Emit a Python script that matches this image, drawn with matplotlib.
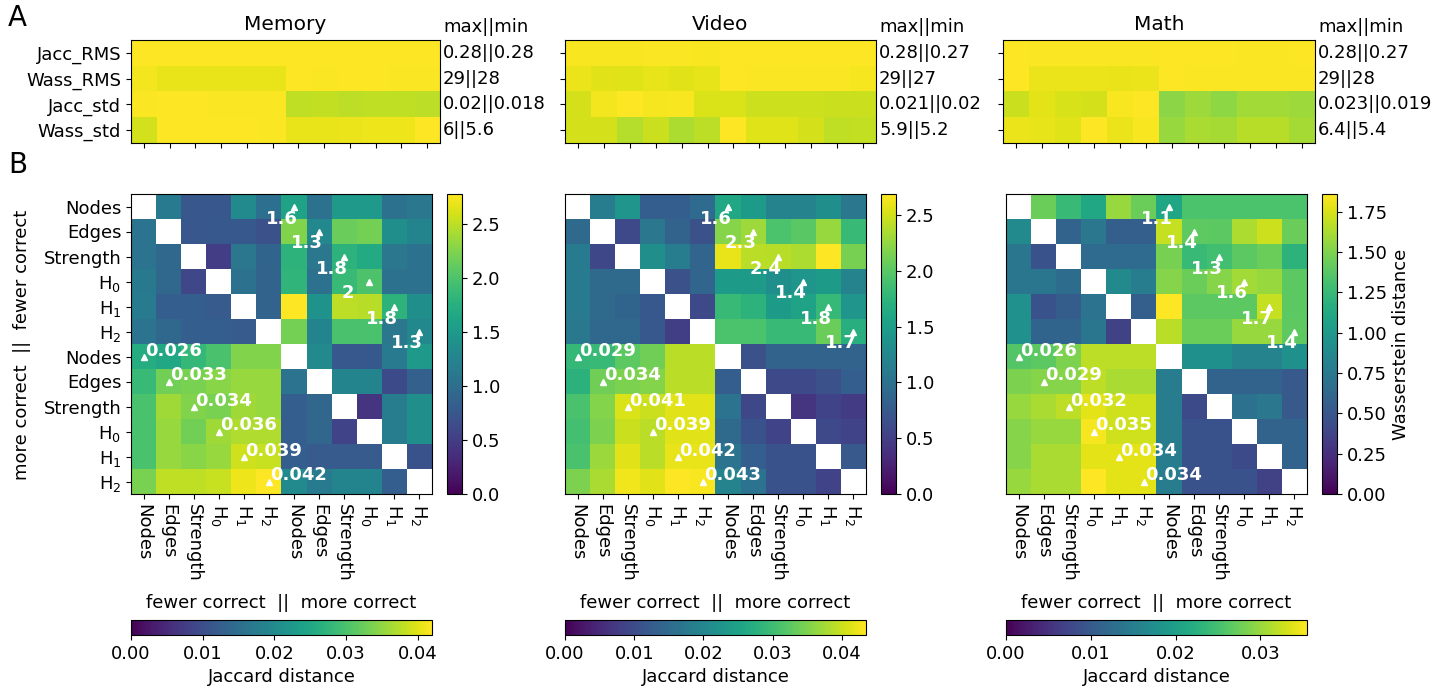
import numpy as np
import matplotlib
matplotlib.use("Agg")
import matplotlib.pyplot as plt

nan = np.nan

tasks = ["Memory", "Video", "Math"]
summary_rows = ["Jacc_RMS", "Wass_RMS", "Jacc_std", "Wass_std"]
features = ["Nodes", "Edges", "Strength", "H$_0$", "H$_1$", "H$_2$"]

# panel A: per-row summaries (12 columns each)
memory_summary = [
    [0.280, 0.279, 0.279, 0.279, 0.279, 0.279, 0.280, 0.280, 0.280, 0.280, 0.280, 0.280],
    [28.5, 28.0, 28.0, 28.0, 28.0, 28.0, 29.0, 28.8, 28.9, 28.9, 28.8, 28.8],
    [0.0199, 0.0200, 0.0200, 0.0199, 0.0199, 0.0199, 0.0181, 0.0182, 0.0180, 0.0181, 0.0181, 0.0180],
    [5.56, 5.95, 5.95, 5.95, 5.97, 5.93, 5.78, 5.78, 5.8, 5.82, 5.82, 5.95],
]
video_summary = [
    [0.273, 0.273, 0.273, 0.274, 0.274, 0.273, 0.276, 0.276, 0.276, 0.276, 0.276, 0.276],
    [27.8, 27.3, 27.2, 27.5, 27.3, 27.5, 28.6, 28.4, 28.4, 28.4, 28.4, 28.2],
    [0.0200, 0.0210, 0.0214, 0.0211, 0.0212, 0.0202, 0.0202, 0.0198, 0.0198, 0.0198, 0.0197, 0.0197],
    [5.55, 5.55, 5.28, 5.46, 5.2, 5.35, 5.94, 5.64, 5.65, 5.55, 5.38, 5.4],
]
math_summary = [
    [0.276, 0.274, 0.274, 0.274, 0.274, 0.274, 0.275, 0.275, 0.275, 0.274, 0.274, 0.275],
    [28.6, 27.8, 27.8, 27.8, 27.7, 27.8, 28.6, 28.4, 28.4, 28.4, 28.4, 28.4],
    [0.0212, 0.0221, 0.0216, 0.0215, 0.0228, 0.0230, 0.0190, 0.0196, 0.0191, 0.0198, 0.0198, 0.0196],
    [6.2, 6.15, 6.1, 6.4, 6.2, 6.35, 5.4, 5.6, 5.55, 5.7, 5.7, 5.55],
]

# panel B: upper triangle = Wasserstein, lower triangle = Jaccard
memory_dist = [
    [nan, 1.15, 0.75, 0.75, 1.32, 1.02, 1.6, 1.05, 1.5, 1.5, 1.05, 1.1],
    [0.016, nan, 0.75, 0.77, 0.77, 0.69, 2.25, 1.3, 2.15, 2.2, 1.38, 1.25],
    [0.016, 0.014, nan, 0.5, 1.1, 0.9, 1.8, 1.1, 1.8, 1.7, 1.1, 1.05],
    [0.017, 0.014, 0.009, nan, 1.05, 0.88, 1.82, 1.05, 1.87, 2.0, 1.05, 1.05],
    [0.0175, 0.0125, 0.0125, 0.012, nan, 0.88, 2.78, 1.43, 2.5, 2.48, 1.8, 1.38],
    [0.016, 0.014, 0.0125, 0.0125, 0.012, nan, 2.2, 1.25, 1.98, 1.98, 1.1, 1.3],
    [0.026, 0.025, 0.028, 0.030, 0.034, 0.034, nan, 1.32, 0.77, 0.77, 1.15, 1.5],
    [0.0285, 0.033, 0.0335, 0.0345, 0.0355, 0.0355, 0.016, nan, 1.25, 1.25, 0.62, 0.85],
    [0.030, 0.036, 0.034, 0.0335, 0.036, 0.0355, 0.0125, 0.0138, nan, 0.42, 1.17, 1.38],
    [0.030, 0.0355, 0.033, 0.036, 0.037, 0.037, 0.0125, 0.0138, 0.0085, nan, 1.17, 1.38],
    [0.030, 0.0355, 0.0345, 0.0355, 0.039, 0.0385, 0.0125, 0.012, 0.012, 0.012, nan, 0.7],
    [0.0335, 0.038, 0.038, 0.0385, 0.041, 0.042, 0.020, 0.0175, 0.019, 0.019, 0.0125, nan],
]
video_dist = [
    [nan, 1.13, 1.4, 0.8, 0.8, 0.94, 1.6, 1.47, 1.2, 1.2, 1.34, 1.07],
    [0.015, nan, 0.59, 1.07, 0.86, 0.67, 2.2, 2.3, 1.93, 2.0, 2.28, 1.82],
    [0.018, 0.0095, nan, 1.34, 1.13, 0.88, 2.6, 2.41, 2.4, 2.36, 2.69, 2.14],
    [0.018, 0.015, 0.015, nan, 0.67, 0.88, 1.47, 1.47, 1.34, 1.4, 1.47, 1.2],
    [0.018, 0.015, 0.014, 0.012, nan, 0.59, 1.82, 1.74, 1.47, 1.55, 1.8, 1.4],
    [0.0175, 0.0145, 0.0145, 0.012, 0.008, nan, 1.93, 1.93, 1.82, 1.82, 2.09, 1.7],
    [0.029, 0.0295, 0.0325, 0.034, 0.039, 0.039, nan, 0.67, 0.86, 0.86, 0.86, 0.86],
    [0.028, 0.034, 0.035, 0.0355, 0.039, 0.039, 0.013, nan, 0.59, 0.59, 0.67, 0.8],
    [0.031, 0.0355, 0.041, 0.040, 0.0415, 0.0415, 0.0165, 0.0095, nan, 0.4, 0.54, 0.48],
    [0.0305, 0.035, 0.040, 0.039, 0.0415, 0.0415, 0.015, 0.011, 0.0087, nan, 0.59, 0.54],
    [0.031, 0.037, 0.0415, 0.039, 0.042, 0.042, 0.0165, 0.013, 0.011, 0.011, nan, 0.75],
    [0.035, 0.038, 0.0425, 0.0415, 0.0435, 0.043, 0.0195, 0.0165, 0.011, 0.011, 0.0087, nan],
]
math_dist = [
    [nan, 1.44, 1.26, 1.11, 1.57, 1.44, 1.1, 1.33, 1.33, 1.33, 1.33, 1.33],
    [0.017, nan, 0.59, 0.74, 0.56, 0.56, 1.7, 1.4, 1.39, 1.63, 1.72, 1.44],
    [0.014, 0.009, nan, 0.65, 0.65, 0.65, 1.48, 1.26, 1.3, 1.39, 1.44, 1.2],
    [0.014, 0.014, 0.0125, nan, 0.89, 0.78, 1.52, 1.44, 1.52, 1.6, 1.57, 1.39],
    [0.018, 0.009, 0.0105, 0.0135, nan, 0.56, 1.86, 1.39, 1.39, 1.39, 1.7, 1.39],
    [0.018, 0.0115, 0.0115, 0.014, 0.007, nan, 1.67, 1.44, 1.44, 1.57, 1.57, 1.4],
    [0.026, 0.0265, 0.0285, 0.032, 0.032, 0.032, nan, 0.93, 0.93, 0.83, 0.83, 0.93],
    [0.0285, 0.029, 0.029, 0.032, 0.031, 0.031, 0.015, nan, 0.59, 0.59, 0.59, 0.52],
    [0.030, 0.031, 0.032, 0.034, 0.033, 0.033, 0.015, 0.008, nan, 0.7, 0.74, 0.52],
    [0.029, 0.030, 0.030, 0.035, 0.033, 0.033, 0.015, 0.009, 0.009, nan, 0.59, 0.59],
    [0.029, 0.031, 0.031, 0.034, 0.034, 0.034, 0.015, 0.009, 0.009, 0.008, nan, 0.59],
    [0.030, 0.031, 0.031, 0.0355, 0.034, 0.034, 0.015, 0.009, 0.009, 0.009, 0.007, nan],
]

wass_ticks = [np.arange(0, 2.51, 0.5), np.arange(0, 2.51, 0.5), np.arange(0, 1.76, 0.25)]
jacc_ticks = [np.arange(0, 0.041, 0.01), np.arange(0, 0.041, 0.01), np.arange(0, 0.031, 0.01)]

summaries = [memory_summary, video_summary, math_summary]
dists = [memory_dist, video_dist, math_dist]

W, H = 1451, 692
FS = 13


def box(x0, y0, x1, y1):
    # pixel box -> figure fraction
    return [x0 / W, 1 - y1 / H, (x1 - x0) / W, (y1 - y0) / H]


top_x = [(131, 440), (565, 876), (1003, 1315)]
bot_x = [(131, 432), (565, 866), (1006, 1307)]
cbar_x = [447, 881, 1322]

fig = plt.figure(figsize=(W / 100, H / 100), dpi=100)

for k in range(3):
    # ---- panel A
    arr = np.array(summaries[k])
    ax = fig.add_axes(box(top_x[k][0], 40, top_x[k][1], 143))
    ax.imshow(arr / arr.max(axis=1, keepdims=True), cmap="viridis", vmin=0, vmax=1,
              aspect="auto", interpolation="nearest")
    ax.set_xticks(range(12))
    ax.set_xticklabels([])
    ax.set_yticks(range(4))
    if k == 0:
        ax.set_yticklabels(summary_rows, fontsize=FS)
    else:
        ax.set_yticklabels([])
    ax.set_title(tasks[k], fontsize=14.5, pad=7)
    ax.text(11.62, -1.0, "max||min", fontsize=FS, ha="left", va="center")
    for r in range(4):
        ax.text(11.62, r, f"{arr[r].max():.2g}||{arr[r].min():.2g}",
                fontsize=FS, ha="left", va="center")

    # ---- panel B
    M = np.array(dists[k])
    upper = np.triu(np.ones((12, 12), bool), 1)
    lower = np.tril(np.ones((12, 12), bool), -1)
    wass = np.ma.masked_where(~upper, M)
    jacc = np.ma.masked_where(~lower, M)

    ax = fig.add_axes(box(bot_x[k][0], 194, bot_x[k][1], 494))
    im_w = ax.imshow(wass, cmap="viridis", vmin=0, vmax=wass.max(),
                     aspect="auto", interpolation="nearest")
    im_j = ax.imshow(jacc, cmap="viridis", vmin=0, vmax=jacc.max(),
                     aspect="auto", interpolation="nearest")

    for i in range(6):
        r, c = i, i + 6
        ax.plot(c, r, marker="^", color="white", ms=5, mec="white")
        ax.text(c - 1.12, r + 0.48, f"{M[r, c]:.2g}", color="white",
                fontweight="bold", fontsize=FS, ha="left", va="center")
        r, c = i + 6, i
        ax.plot(c, r, marker="^", color="white", ms=5, mec="white")
        ax.text(c + 0.06, r - 0.24, f"{M[r, c]:.2g}", color="white",
                fontweight="bold", fontsize=FS, ha="left", va="center")
    ax.set_xlim(-0.5, 11.5)
    ax.set_ylim(11.5, -0.5)

    ax.set_xticks(range(12))
    ax.set_xticklabels(features * 2, rotation=-90, fontsize=FS)
    if k == 0:
        ax.set_yticks(range(12))
        ax.set_yticklabels(features * 2, fontsize=FS)
    else:
        ax.set_yticks([])

    cx = (bot_x[k][0] + bot_x[k][1]) / 2 / W
    fig.text(cx, 1 - 603 / H, "fewer correct  ||  more correct", fontsize=FS,
             ha="center", va="center")

    cax = fig.add_axes(box(cbar_x[k], 194, cbar_x[k] + 15, 494))
    cb = fig.colorbar(im_w, cax=cax)
    cb.set_ticks(wass_ticks[k])
    cb.ax.tick_params(labelsize=FS)
    if k == 2:
        cb.set_label("Wasserstein distance", fontsize=FS)

    cax2 = fig.add_axes(box(bot_x[k][0], 620, bot_x[k][1], 635))
    cb2 = fig.colorbar(im_j, cax=cax2, orientation="horizontal")
    cb2.set_ticks(jacc_ticks[k])
    cb2.ax.tick_params(labelsize=FS)
    cb2.set_label("Jaccard distance", fontsize=FS)

fig.text(22 / W, 1 - 345 / H, "more correct  ||  fewer correct", fontsize=FS,
         rotation=90, ha="center", va="center")
fig.text(8 / W, 1 - 18 / H, "A", fontsize=20, ha="left", va="center")
fig.text(8 / W, 1 - 165 / H, "B", fontsize=20, ha="left", va="center")

fig.savefig("out.png", dpi=100)
